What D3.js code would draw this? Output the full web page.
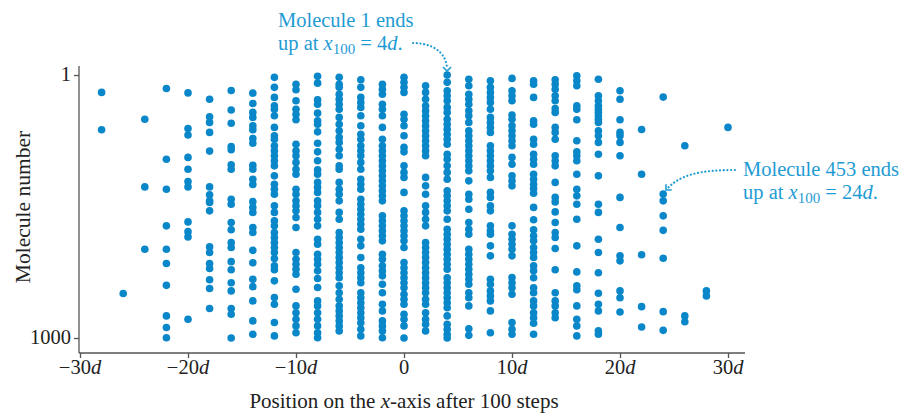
<!DOCTYPE html>
<html>
<head>
<meta charset="utf-8">
<script src="https://cdn.jsdelivr.net/npm/d3@7"></script>
<style>
  body { margin: 0; background: #fff; }
  text { font-family: "Liberation Serif", "Times New Roman", serif; }
</style>
</head>
<body>
<div id="chart-area"></div>
<script>
// final position (in units of d) of each column of molecules
const positions = [-28, -26, -24, -22, -20, -18, -16, -14, -12, -10, -8, -6, -4, -2,
  0, 2, 4, 6, 8, 10, 12, 14, 16, 18, 20, 22, 24, 26, 28, 30];

// molecule numbers ending up at each position
const moleculesAt = [
  [67, 209],
  [831],
  [169, 426, 663],
  [52, 321, 435, 574, 663, 717, 800, 916, 960, 999],
  [69, 204, 229, 314, 359, 406, 426, 559, 596, 616, 929],
  [93, 160, 181, 219, 290, 426, 456, 479, 485, 517, 654, 675, 717, 736, 779, 812, 888],
  [60, 134, 184, 273, 285, 342, 359, 473, 492, 561, 589, 637, 656, 710, 741, 790, 821, 888, 910, 1000],
  [70, 109, 143, 162, 194, 209, 242, 260, 344, 359, 397, 417, 482, 504, 523, 580, 599, 667, 714, 777, 805, 859, 935, 986],
  [10, 48, 86, 118, 131, 156, 200, 232, 245, 270, 289, 308, 327, 346, 384, 416, 435, 454, 498, 523, 555, 574, 599, 618, 637, 656, 675, 698, 726, 741, 783, 846, 872, 941, 992],
  [36, 57, 99, 131, 150, 171, 264, 289, 308, 333, 359, 378, 435, 454, 479, 498, 517, 542, 580, 675, 701, 720, 739, 758, 815, 878, 904, 929, 954, 980],
  [6, 32, 95, 112, 146, 175, 188, 217, 260, 293, 327, 361, 378, 409, 428, 447, 479, 498, 523, 549, 574, 625, 644, 682, 701, 720, 745, 774, 808, 859, 878, 904, 929, 954, 980, 999],
  [10, 36, 48, 74, 93, 112, 131, 162, 188, 213, 238, 257, 283, 308, 346, 359, 409, 435, 454, 479, 523, 549, 599, 618, 637, 656, 675, 694, 713, 733, 752, 771, 802, 828, 853, 878, 897, 916, 935, 954, 973],
  [19, 48, 86, 105, 124, 156, 194, 226, 245, 270, 289, 308, 333, 359, 397, 416, 435, 473, 492, 511, 530, 549, 568, 587, 625, 650, 694, 733, 752, 771, 790, 828, 847, 866, 885, 904, 923, 942, 967, 992],
  [36, 55, 74, 112, 131, 156, 200, 245, 270, 289, 308, 327, 346, 365, 384, 403, 422, 441, 460, 479, 536, 555, 574, 593, 612, 631, 682, 701, 726, 745, 764, 796, 828, 872, 897, 935, 954, 973, 999],
  [10, 29, 48, 67, 150, 169, 194, 232, 276, 293, 346, 371, 390, 447, 517, 536, 555, 574, 593, 612, 631, 656, 713, 733, 752, 771, 790, 809, 834, 853, 872, 910, 929, 954, 1000],
  [42, 67, 93, 118, 137, 156, 175, 194, 213, 232, 251, 270, 289, 308, 390, 422, 454, 498, 523, 549, 574, 637, 656, 675, 694, 713, 733, 752, 771, 790, 809, 828, 853, 872, 904, 929, 948, 973],
  [1, 29, 61, 80, 99, 124, 143, 169, 188, 207, 226, 245, 264, 302, 321, 346, 371, 397, 441, 460, 479, 498, 517, 549, 587, 606, 625, 644, 663, 682, 701, 720, 739, 771, 790, 809, 828, 847, 866, 885, 916, 948, 967, 986, 1000],
  [17, 42, 74, 93, 112, 137, 156, 181, 213, 232, 251, 270, 289, 308, 327, 346, 365, 403, 454, 473, 511, 561, 587, 606, 663, 682, 701, 720, 739, 758, 777, 796, 828, 847, 878, 965, 990],
  [23, 48, 67, 86, 105, 131, 162, 181, 200, 219, 270, 289, 308, 327, 346, 365, 390, 447, 466, 498, 517, 574, 593, 606, 650, 688, 777, 796, 821, 840, 859, 897, 980],
  [14, 61, 80, 99, 153, 169, 194, 213, 232, 251, 270, 314, 340, 384, 403, 422, 574, 606, 625, 644, 663, 688, 770, 790, 809, 834, 941, 967, 986],
  [23, 36, 86, 175, 188, 245, 264, 302, 321, 340, 378, 397, 416, 432, 450, 504, 551, 589, 612, 631, 656, 675, 694, 726, 745, 771, 809, 828, 859, 878, 904, 923, 944, 986],
  [19, 36, 55, 80, 99, 128, 143, 200, 219, 245, 308, 327, 346, 409, 466, 483, 521, 561, 599, 618, 660, 741, 828, 859, 878, 904, 923],
  [4, 23, 42, 118, 131, 171, 251, 293, 308, 327, 378, 435, 460, 492, 549, 650, 749, 802, 817, 878, 929, 954, 992],
  [17, 80, 99, 118, 131, 143, 156, 169, 181, 213, 232, 257, 302, 384, 492, 523, 625, 675, 752, 830, 872, 897, 973, 986],
  [61, 93, 171, 219, 232, 257, 308, 466, 580, 688, 707, 821, 847, 901],
  [208, 378, 684, 881, 958],
  [85, 453, 479, 536, 591, 697, 900, 971],
  [270, 916, 938],
  [821, 840],
  [200]
];

const xTicks = [-30, -20, -10, 0, 10, 20, 30];
const yTicks = [1, 1000];

const dotColor = "#0a87c8";
const noteColor = "#1f9bd3";
const axisColor = "#555";

const width = 906, height = 413;

const svg = d3.select("#chart-area")
  .append("svg")
    .attr("width", width)
    .attr("height", height);

const xScale = d3.scaleLinear().domain([-30, 30]).range([80, 728]);
const yScale = d3.scaleLinear().domain([1, 1000]).range([75, 338]);

const points = [];
positions.forEach((p, i) => {
  moleculesAt[i].forEach(m => points.push({ pos: p, mol: m }));
});

// axes
const xAxis = svg.append("g")
    .attr("transform", "translate(0,353)")
    .call(d3.axisBottom(xScale).tickValues(xTicks).tickSize(5).tickFormat(""));
xAxis.select(".domain").attr("d", "M79,0H745");

const yAxis = svg.append("g")
    .attr("transform", "translate(79,0)")
    .call(d3.axisLeft(yScale).tickValues(yTicks).tickSize(5).tickFormat(""));
yAxis.select(".domain").attr("d", "M0,66V353");

svg.selectAll(".domain, .tick line")
    .attr("stroke", axisColor)
    .attr("stroke-width", 1.3);

// tick labels (italic d)
const xLab = svg.append("g").selectAll("text")
  .data(xTicks)
  .enter().append("text")
    .attr("x", d => xScale(d))
    .attr("y", 374)
    .attr("text-anchor", "middle")
    .style("font-size", "20.5px")
    .attr("fill", "#222");
xLab.append("tspan").text(d => d < 0 ? "\u2212" + Math.abs(d) : String(d));
xLab.filter(d => d !== 0).append("tspan").style("font-style", "italic").text("d");

svg.append("g").selectAll("text")
  .data(yTicks)
  .enter().append("text")
    .attr("x", 71)
    .attr("y", d => yScale(d) + 6)
    .attr("text-anchor", "end")
    .style("font-size", "20.5px")
    .attr("fill", "#222")
    .text(d => d);

// axis titles
const xTitle = svg.append("text")
    .attr("x", 404)
    .attr("y", 408)
    .attr("text-anchor", "middle")
    .style("font-size", "21px")
    .attr("fill", "#222");
xTitle.append("tspan").text("Position on the ");
xTitle.append("tspan").style("font-style", "italic").text("x");
xTitle.append("tspan").text("-axis after 100 steps");

svg.append("text")
    .attr("transform", "translate(30,207) rotate(-90)")
    .attr("text-anchor", "middle")
    .style("font-size", "21.5px")
    .attr("fill", "#222")
    .text("Molecule number");

// dots
svg.append("g").selectAll("circle")
  .data(points)
  .enter().append("circle")
    .attr("cx", d => xScale(d.pos))
    .attr("cy", d => yScale(d.mol))
    .attr("r", 3.8)
    .attr("fill", dotColor);

// annotations
function note(x, y, num, pos) {
  const g = svg.append("g").attr("fill", noteColor).style("font-size", "20.5px");
  g.append("text").attr("x", x).attr("y", y).text(`Molecule ${num} ends`);
  const t = g.append("text").attr("x", x).attr("y", y + 23);
  t.append("tspan").text("up at ");
  t.append("tspan").style("font-style", "italic").text("x");
  t.append("tspan").attr("dy", 4).style("font-size", "15px").text("100");
  t.append("tspan").attr("dy", -4).text(` = ${pos}`);
  t.append("tspan").style("font-style", "italic").text("d");
  t.append("tspan").text(".");
}
note(278, 27, 1, 4);
note(743, 176, 453, 24);

function arrow(pathD, tip, angle) {
  svg.append("path")
      .attr("d", pathD)
      .attr("fill", "none")
      .attr("stroke", noteColor)
      .attr("stroke-width", 2.2)
      .attr("stroke-linecap", "round")
      .attr("stroke-dasharray", "0.1,3.6");
  svg.append("path")
      .attr("d", "M-4,-4L0,0L4,-4")
      .attr("transform", `translate(${tip[0]},${tip[1]}) rotate(${angle})`)
      .attr("fill", "none")
      .attr("stroke", noteColor)
      .attr("stroke-width", 1.6);
}
arrow("M413,43C432,43 446,52 447,68", [447, 71], 0);
arrow("M735,170C700,170 680,175 668,188", [666, 190], 45);
</script>
</body>
</html>
